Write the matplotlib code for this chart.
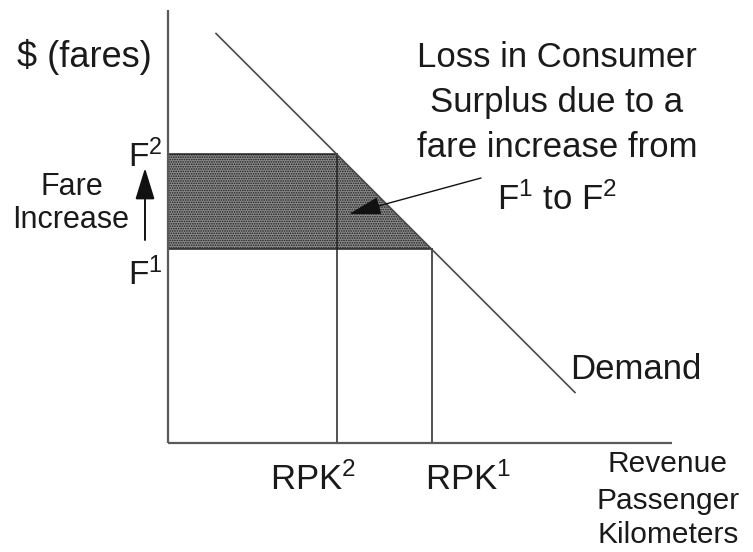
import matplotlib
matplotlib.use("Agg")
import matplotlib.pyplot as plt
import numpy as np

plt.rcParams['font.family'] = ['Liberation Sans', 'DejaVu Sans']
plt.rcParams['mathtext.fontset'] = 'custom'
plt.rcParams['mathtext.rm'] = 'Liberation Sans'
plt.rcParams['mathtext.it'] = 'Liberation Sans'
plt.rcParams['mathtext.bf'] = 'Liberation Sans:bold'
plt.rcParams['hatch.linewidth'] = 0.8

# ---- data (schematic economic values) ----
fare_levels = [19.4, 28.9]            # F1, F2
fare_labels = ["F$^1$", "F$^2$"]
demand_intercept = 45.75              # price at zero quantity
demand_slope = 1.0                    # price drop per unit quantity
demand_q_range = [4.8, 40.7]          # drawn extent of demand curve
rpk_labels = ["RPK$^1$", "RPK$^2$"]
axis_max = [50.4, 43.3]               # x (quantity) and y (price) axis ends
title_lines = ["Loss in Consumer", "Surplus due to a", "fare increase from",
               "F$^1$ to F$^2$"]
x_label_lines = ["Revenue", "Passenger", "Kilometers"]

def demand_q(p):
    return (demand_intercept - p) / demand_slope

F1, F2 = fare_levels
Q1, Q2 = demand_q(F1), demand_q(F2)

fig = plt.figure(figsize=(7.53, 5.52), dpi=100)
ax = fig.add_axes([0, 0, 1, 1])
ax.set_xlim(-16.8, 58.5)
ax.set_ylim(-10.9, 44.3)
ax.axis('off')

txt = '#1a1a1a'

# shaded consumer surplus loss
poly_x = [0, 0, Q2, Q1]
poly_y = [F1, F2, F2, F1]
ax.fill(poly_x, poly_y, facecolor='#8c8c8c', edgecolor='#1c1c1c',
        hatch='.......', linewidth=0, zorder=1)

# axes
ax.plot([0, 0], [0, axis_max[1]], color='#5a5a5a', lw=1.6, zorder=3,
        solid_capstyle='butt')
ax.plot([0, axis_max[0]], [0, 0], color='#5a5a5a', lw=1.6, zorder=3,
        solid_capstyle='butt')

# demand line
qd = np.array(demand_q_range)
ax.plot(qd, demand_intercept - demand_slope * qd, color='#4a4a4a', lw=1.2,
        zorder=3)

# guide lines
ax.plot([0, Q2], [F2, F2], color='#222222', lw=1.1, zorder=2)
ax.plot([0, Q1], [F1, F1], color='#222222', lw=1.1, zorder=2)
ax.plot([Q2, Q2], [0, F2], color='#222222', lw=1.1, zorder=2)
ax.plot([Q1, Q1], [0, F1], color='#222222', lw=1.1, zorder=2)

# y label
ax.text(-8.4, 37.6, r"\$ (fares)", ha='center',
        va='baseline', fontsize=26, color=txt)

# fare labels
ax.text(-4.0, 27.6, fare_labels[1], ha='left', va='baseline', fontsize=24,
        color=txt)
ax.text(-4.0, 15.8, fare_labels[0], ha='left', va='baseline', fontsize=24,
        color=txt)

# fare increase
ax.text(-9.6, 24.8, "Fare", ha='center', va='baseline', fontsize=22, color=txt)
ax.text(-9.7, 21.5, "Increase", ha='center', va='baseline', fontsize=22,
        color=txt)
ax.annotate("", xy=(-2.3, 27.5), xytext=(-2.3, 20.3),
            arrowprops=dict(arrowstyle='-|>,head_length=1.95,head_width=0.6',
                            color='#111111', lw=1.4, shrinkA=0, shrinkB=0))

# demand label
ax.text(40.2, 6.4, "Demand", ha='left', va='baseline', fontsize=25, color=txt)

# RPK labels
ax.text(10.2, -4.7, rpk_labels[1], ha='left', va='baseline', fontsize=25,
        color=txt)
ax.text(25.7, -4.7, rpk_labels[0], ha='left', va='baseline', fontsize=25,
        color=txt)

# x label
for line, yb in zip(x_label_lines, [-2.9, -6.6, -10.0]):
    ax.text(50.0, yb, line, ha='center', va='baseline', fontsize=21.5,
            color=txt)

# annotation text
for line, yb in zip(title_lines, [37.6, 33.1, 28.6, 23.3]):
    ax.text(38.9, yb, line, ha='center', va='baseline', fontsize=25,
            color=txt)

ax.annotate("", xy=(18.1, 22.9), xytext=(31.3, 26.5),
            arrowprops=dict(arrowstyle='-|>,head_length=2.0,head_width=0.55',
                            color='#111111', lw=1.0, shrinkA=0, shrinkB=0),
            zorder=5)

fig.savefig("out.png", dpi=100)
